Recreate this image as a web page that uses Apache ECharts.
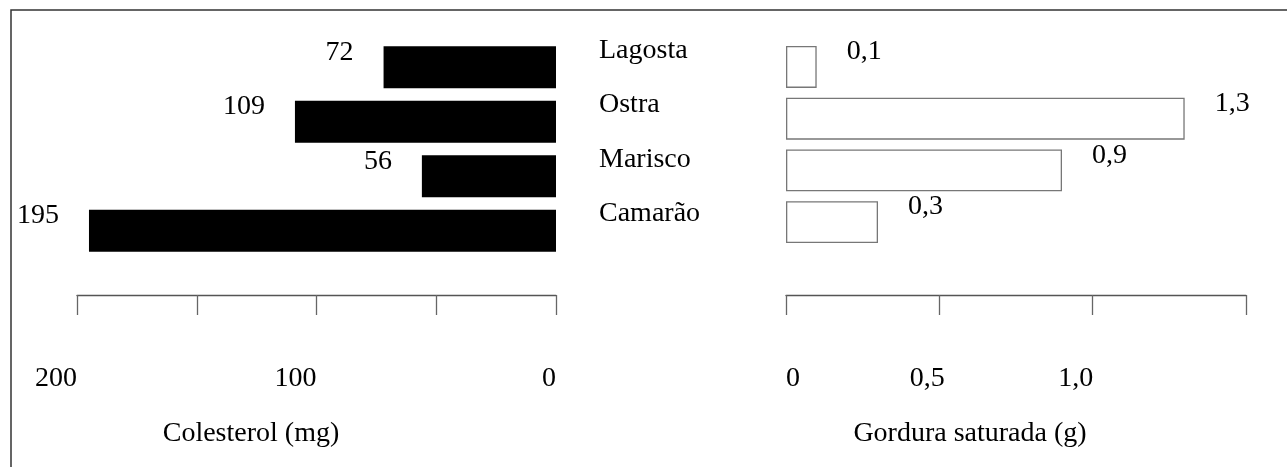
<!DOCTYPE html>
<html>
<head>
<meta charset="utf-8">
<script src="https://cdn.jsdelivr.net/npm/echarts@6/dist/echarts.min.js"></script>
<style>
html,body{margin:0;padding:0;background:#fff;}
#chart{width:1287px;height:467px;}
</style>
</head>
<body>
<div id="chart"></div>
<script>
// ---- data ----
var categories = ['Lagosta', 'Ostra', 'Marisco', 'Camarão'];
var cholesterol = [72, 109, 56, 195];          // mg
var saturatedFat = [0.1, 1.3, 0.9, 0.3];       // g
var leftTickValues = [200, 100, 0];
var leftTickLabels = ['200', '100', '0'];
var rightTickValues = [0, 0.5, 1.0];
var rightTickLabels = ['0', '0,5', '1,0'];
var leftTitle = 'Colesterol (mg)';
var rightTitle = 'Gordura saturada (g)';

var FONT = 'Liberation Serif';
var FS = 28;

function leftTick(v) {
  var i = leftTickValues.indexOf(v);
  return i >= 0 ? leftTickLabels[i] : '';
}
function rightTick(v) {
  var i = -1;
  for (var k = 0; k < rightTickValues.length; k++) {
    if (Math.abs(rightTickValues[k] - v) < 1e-9) i = k;
  }
  if (i < 0) return '';
  var styleKey = i === 0 ? 'l' : (i === rightTickValues.length - 1 ? 'r' : 'c');
  return '{' + styleKey + '|' + rightTickLabels[i] + '}';
}

var chart = echarts.init(document.getElementById('chart'));
var option = {
  backgroundColor: '#fff',
  animation: false,
  textStyle: { fontFamily: FONT, color: '#000' },
  grid: [
    { left: 77, right: 731, top: 40, bottom: 209, containLabel: false },
    { left: 786, right: 41, top: 41, bottom: 219, containLabel: false }
  ],
  xAxis: [
    {
      gridIndex: 0, type: 'value', inverse: true, min: 0, max: 200, interval: 50,
      position: 'bottom', offset: 37,
      splitLine: { show: false },
      axisLine: { show: true, lineStyle: { color: '#555', width: 1.3 } },
      axisTick: { show: true, inside: false, length: 20, lineStyle: { color: '#666', width: 1.3 } },
      axisLabel: {
        show: true, margin: 70, align: 'right', color: '#000',
        fontFamily: FONT, fontSize: FS, formatter: leftTick
      }
    },
    {
      gridIndex: 1, type: 'value', min: 0, max: 1.5, interval: 0.5,
      position: 'bottom', offset: 47,
      splitLine: { show: false },
      axisLine: { show: true, lineStyle: { color: '#555', width: 1.3 } },
      axisTick: { show: true, inside: false, length: 20, lineStyle: { color: '#666', width: 1.3 } },
      axisLabel: {
        show: true, margin: 70, align: 'center', color: '#000',
        fontFamily: FONT, fontSize: FS, formatter: rightTick,
        rich: {
          l: { fontFamily: FONT, fontSize: FS, color: '#000', padding: [0, 0, 0, 14] },
          c: { fontFamily: FONT, fontSize: FS, color: '#000', padding: [0, 24, 0, 0] },
          r: { fontFamily: FONT, fontSize: FS, color: '#000', padding: [0, 34, 0, 0] }
        }
      }
    }
  ],
  yAxis: [
    {
      gridIndex: 0, type: 'category', data: categories, inverse: true,
      position: 'right',
      axisLine: { show: false }, axisTick: { show: false }, splitLine: { show: false },
      axisLabel: {
        show: true, interval: 0, hideOverlap: false, margin: 43, align: 'left', color: '#000',
        fontFamily: FONT, fontSize: FS,
        formatter: function (v) { return '{a|' + v + '}\n{b| }'; },
        rich: {
          a: { fontFamily: FONT, fontSize: FS, color: '#000', lineHeight: 32 },
          b: { fontFamily: FONT, fontSize: 10, height: 34, lineHeight: 34 }
        }
      }
    },
    {
      gridIndex: 1, type: 'category', data: categories, inverse: true,
      axisLine: { show: false }, axisTick: { show: false }, splitLine: { show: false },
      axisLabel: { show: false }
    }
  ],
  series: [
    {
      type: 'bar', xAxisIndex: 0, yAxisIndex: 0, data: cholesterol,
      barWidth: 42,
      itemStyle: { color: '#000' },
      label: {
        show: true, position: 'left', distance: 30, offset: [0, -15],
        color: '#000', fontFamily: FONT, fontSize: FS
      }
    },
    {
      type: 'bar', xAxisIndex: 1, yAxisIndex: 1, data: saturatedFat,
      barWidth: 42,
      itemStyle: { color: '#fff', borderColor: '#777', borderWidth: 1.3 },
      label: {
        show: true, position: 'right', distance: 30, offset: [0, -15],
        color: '#000', fontFamily: FONT, fontSize: FS,
        formatter: function (p) { return String(p.value).replace('.', ','); }
      }
    }
  ],
  graphic: [
    {
      type: 'rect', silent: true, z: 100,
      shape: { x: 11, y: 10, width: 1400, height: 600 },
      style: { fill: 'none', stroke: '#333', lineWidth: 1.5 }
    },
    {
      type: 'text', x: 251, y: 434, z: 100,
      style: { text: leftTitle, font: FS + 'px "' + FONT + '"', fill: '#000', textAlign: 'center', textVerticalAlign: 'middle' }
    },
    {
      type: 'text', x: 970, y: 434, z: 100,
      style: { text: rightTitle, font: FS + 'px "' + FONT + '"', fill: '#000', textAlign: 'center', textVerticalAlign: 'middle' }
    }
  ]
};
chart.setOption(option);
</script>
</body>
</html>
